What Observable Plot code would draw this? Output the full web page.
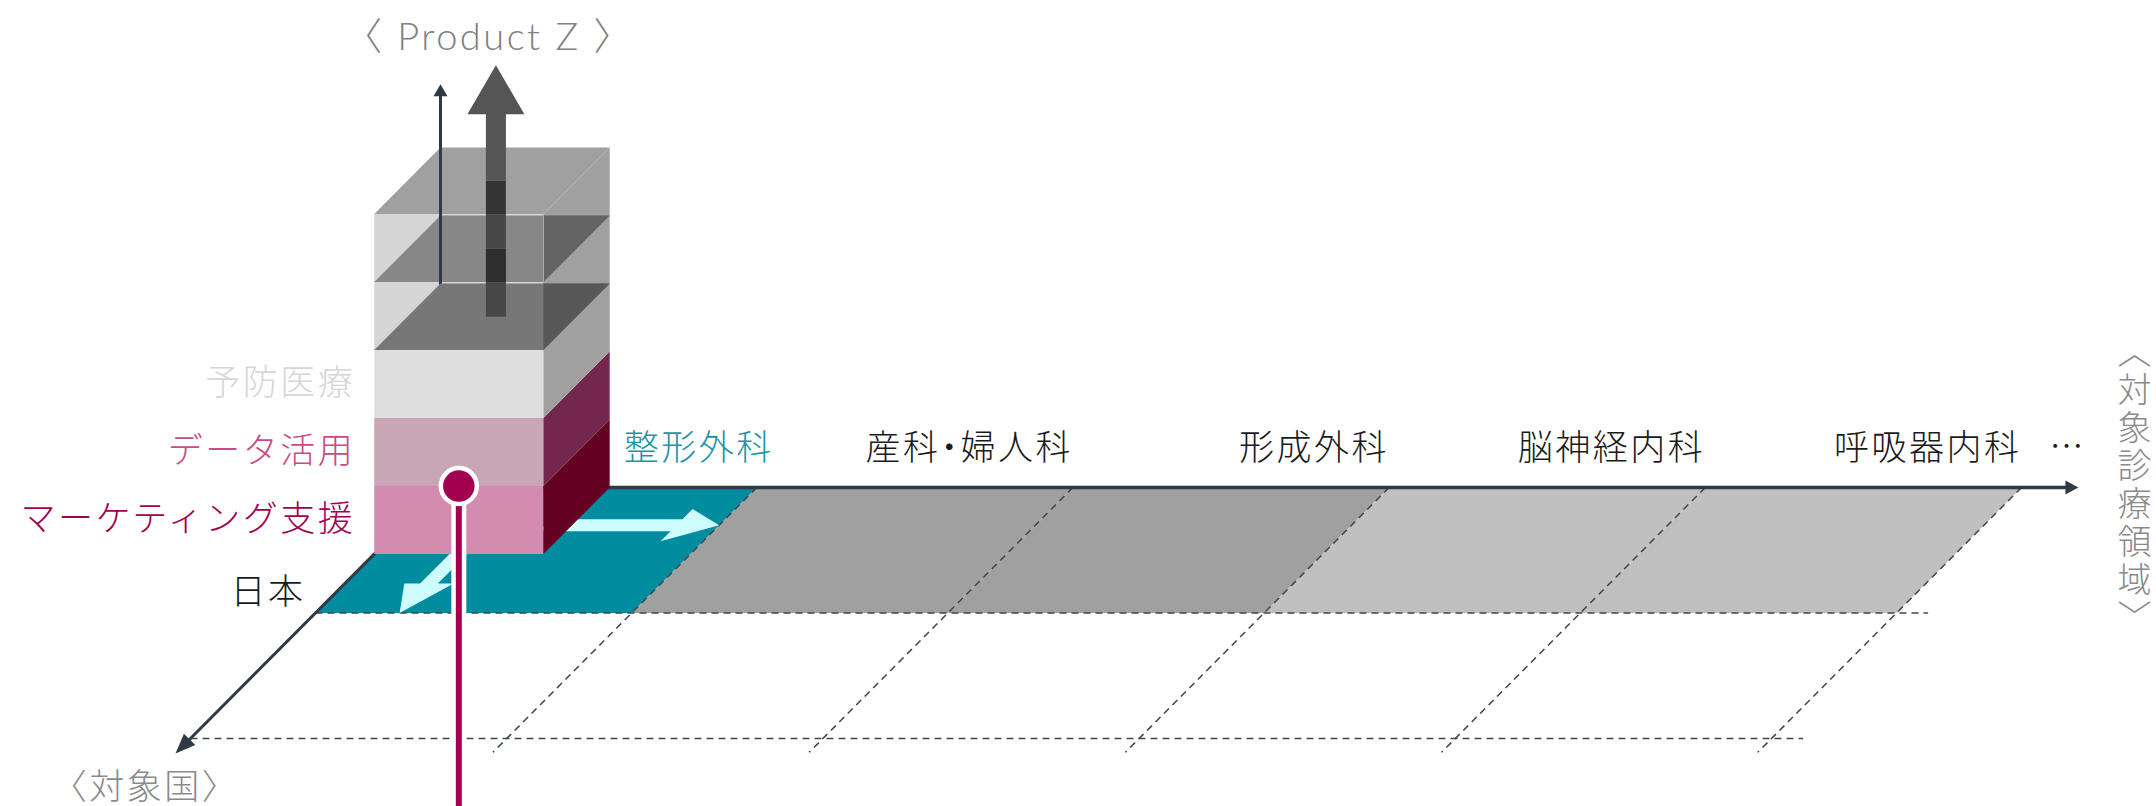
<!DOCTYPE html>
<html><head><meta charset="utf-8">
<script src="https://cdn.jsdelivr.net/npm/d3@7"></script>
<script src="https://cdn.jsdelivr.net/npm/@observablehq/plot@0.6"></script>
<style>html,body{margin:0;padding:0;background:#fff;overflow:hidden}</style>
</head><body><div id="chart"></div>
<script>
// ---------------- data ----------------
const departments = ["整形外科", "産科・婦人科", "形成外科", "脳神経内科", "呼吸器内科"];
const departmentStatus = ["current", "next", "next", "later", "later"];
const countries = ["日本", ""];
const services = ["マーケティング支援", "データ活用", "予防医療"];
const futureLayers = ["future-1", "future-2"];
const productTitle = "〈 Product Z 〉";
const countryTitle = "〈対象国〉";
const departmentTitle = "〈対象診療領域〉";
const moreMark = "…";

// ---------------- styles ----------------
const statusFill = {current: "#028c9f", next: "#a0a0a0", later: "#c0c0c0"};
const serviceFront = ["#d38bb0", "#c9a6b6", "#dedede"];
const serviceSide = ["#640022", "#74264f", "#a0a0a0"];
const serviceText = ["#a0004f", "#c94a86", "#d6d6d6"];
const axisColor = "#2f3a44";
const pinColor = "#a3004f";
const flowColor = "#cdfdff";
const JP = "'Noto Sans CJK JP Light','Noto Sans CJK JP DemiLight','Noto Sans CJK JP','Noto Sans',sans-serif";
const textWeight = 300;

// ---------------- layout (oblique projection) ----------------
const W = 2156, H = 806;
const O = [440, 487], COL = 316.2, ROW = [-125, 125.5], LAY = 68;
const P = (c, d, z = 0) => ({x: O[0] + c * COL + d * ROW[0], y: O[1] + d * ROW[1] - z * LAY});
const CW = 0.535, CD = 0.53;           // footprint of the product block in its cell
const nCols = departments.length, nRows = countries.length;

const poly = (pts, fill, extra = {}) =>
  Plot.line(pts, {x: "x", y: "y", curve: "linear-closed", fill, stroke: "none", ...extra});
function head(tip, from, len, hw) {
  const dx = tip.x - from.x, dy = tip.y - from.y, L = Math.hypot(dx, dy);
  const ux = dx / L, uy = dy / L, bx = tip.x - ux * len, by = tip.y - uy * len;
  return [{x: tip.x, y: tip.y}, {x: bx - uy * hw, y: by + ux * hw}, {x: bx + uy * hw, y: by - ux * hw}];
}
const seg = (a, b) => ({x1: a.x, y1: a.y, x2: b.x, y2: b.y});
const L4 = {x1: "x1", y1: "y1", x2: "x2", y2: "y2"};

const marks = [];

// floor cells, row 0 (日本)
departments.forEach((d, i) => {
  marks.push(poly([P(i, 0), P(i + 1, 0), P(i + 1, 1), P(i, 1)], statusFill[departmentStatus[i]]));
});

// dashed grid
const dashSegs = [];
for (let r = 1; r <= nRows; r++) dashSegs.push(seg(P(0, r), P(nCols + 0.1, r)));
for (let c = 1; c <= nCols; c++) dashSegs.push(seg(P(c, 0), P(c, nRows + 0.11)));
marks.push(Plot.link(dashSegs, {...L4, stroke: "#3f474f", strokeWidth: 1.6, strokeDasharray: "7,5"}));

// axes: departments (right), countries (diagonal), product (up)
const xTip = P(nCols + 0.18, 0), dTip = P(0, nRows + 0.12), zTip = P(0, 0, services.length + futureLayers.length + 0.93);
marks.push(Plot.link([seg(P(0, 0), P(nCols + 0.15, 0))], {...L4, stroke: axisColor, strokeWidth: 3.5}));
marks.push(poly(head(xTip, P(0, 0), 13, 7), axisColor));
marks.push(Plot.link([seg(P(0, 0), P(0, nRows + 0.02))], {...L4, stroke: axisColor, strokeWidth: 3}));
marks.push(poly(head(dTip, P(0, 0), 20, 8), axisColor));

// flow arrows on the floor (expansion to next department / next country)
const dc = 0.3, shw = 0.048, hhw = 0.128, cb = 0.865;
marks.push(poly([P(0.45, dc - shw), P(cb, dc - shw), P(cb, dc - hhw), P(1, dc), P(cb, dc + hhw), P(cb, dc + shw), P(0.45, dc + shw)], flowColor));
const cc = 0.266, cs = 0.028, ch = 0.078, db = 0.765;
marks.push(poly([P(cc - cs, 0.45), P(cc - cs, db), P(cc - ch, db), P(cc, 1), P(cc + ch, db), P(cc + cs, db), P(cc + cs, 0.45)], flowColor));

// glass (future Product Z layers)
const z0 = services.length, z1 = services.length + futureLayers.length;
marks.push(poly([P(0, CD, z0), P(CW, CD, z0), P(CW, CD, z1), P(0, CD, z1)], "#d5d5d5"));
marks.push(poly([P(CW, CD, z0), P(CW, 0, z0), P(CW, 0, z1), P(CW, CD, z1)], "#a0a0a0"));
const cut = CW + CD * ROW[0] / COL; // where the front-right edge meets the back edge
futureLayers.forEach((f, k) => {
  const z = z0 + k + 1;
  if (z < z1) {
    marks.push(poly([P(0, CD, z), P(CW, CD, z), P(CW, 0, z), P(0, 0, z)], "#878787"));
    marks.push(poly([P(CW, CD, z), P(CW, 0, z), P(cut, 0, z)], "#646464"));
  }
});
marks.push(poly([P(0, CD, z1), P(CW, CD, z1), P(CW, 0, z1), P(0, 0, z1)], "#a0a0a0"));
marks.push(Plot.link([seg(P(CW, CD, z0), P(CW, CD, z1)), seg(P(CW, CD, z1), P(CW, 0, z1))],
  {...L4, stroke: "#b4b4b4", strokeWidth: 1}));

// product axis (up)
marks.push(Plot.link([seg(P(0, 0), P(0, 0, services.length + futureLayers.length + 0.77))], {...L4, stroke: axisColor, strokeWidth: 3}));
marks.push(poly(head(zTip, P(0, 0), 12, 7), axisColor));

// solid block: current services
services.forEach((s, k) => {
  marks.push(poly([P(0, CD, k), P(CW, CD, k), P(CW, CD, k + 1), P(0, CD, k + 1)], serviceFront[k]));
  marks.push(poly([P(CW, CD, k), P(CW, 0, k), P(CW, 0, k + 1), P(CW, CD, k + 1)], serviceSide[k]));
});
marks.push(poly([P(0, CD, z0), P(CW, CD, z0), P(CW, 0, z0), P(0, 0, z0)], "#777777"));
marks.push(poly([P(CW, CD, z0), P(CW, 0, z0), P(cut, 0, z0)], "#585858"));

// big growth arrow (Product Z)
const ac = 0.28, ad = 0.265, aw = 10;
const shaft = [
  {z0: 3.0, z1: 3.5, color: "#474747"},
  {z0: 3.5, z1: 4.0, color: "#2e2e2e"},
  {z0: 4.0, z1: 4.5, color: "#474747"},
  {z0: 4.5, z1: 5.0, color: "#343434"},
  {z0: 5.0, z1: 6.02, color: "#555555"}
];
shaft.forEach(s => {
  const a = P(ac, ad, s.z0), b = P(ac, ad, s.z1);
  marks.push(poly([{x: a.x - aw, y: a.y}, {x: a.x + aw, y: a.y}, {x: b.x + aw, y: b.y}, {x: b.x - aw, y: b.y}], s.color));
});
marks.push(poly(head(P(ac, ad, 6.7), P(ac, ad, 3), 49, 28.5), "#555555"));

// pin: current position (日本 × 整形外科 × マーケティング支援)
const pin = P(CW / 2, CD, 1);
marks.push(Plot.link([{x1: pin.x, y1: pin.y, x2: pin.x, y2: H + 10}], {...L4, stroke: "#fff", strokeWidth: 15}));
marks.push(Plot.link([{x1: pin.x, y1: pin.y, x2: pin.x, y2: H + 10}], {...L4, stroke: pinColor, strokeWidth: 6}));
marks.push(Plot.dot([pin], {x: "x", y: "y", r: 18, fill: pinColor, stroke: "#fff", strokeWidth: 4.5}));

// labels
const T = {fontFamily: JP, fontWeight: textWeight};
marks.push(Plot.text(services, {
  x: (d, i) => P(0, CD, i + 0.5).x, y: (d, i) => P(0, CD, i + 0.5).y, text: d => d,
  textAnchor: "end", dx: -19, fill: (d, i) => serviceText[i], fontSize: 35, ...T
}));
marks.push(Plot.text(countries.filter(c => c), {
  x: (d, i) => P(0, i + 0.84).x, y: (d, i) => P(0, i + 0.84).y, text: d => d,
  textAnchor: "end", dx: -30, fill: "#1a1a1a", fontSize: 35, ...T
}));
marks.push(Plot.text(departments.slice(1), {
  x: (d, i) => P(i + 2, 0).x, y: (d, i) => P(i + 2, 0).y, text: d => d,
  textAnchor: "end", dy: -39, fill: "#1a1a1a", fontSize: 35, ...T
}));
marks.push(Plot.text([departments[0]], {
  x: P(CW, 0).x, y: P(CW, 0).y, text: d => d,
  textAnchor: "start", dx: 14, dy: -39, fill: "#1a94a6", fontSize: 35, ...T
}));
marks.push(Plot.text([moreMark], {x: P(nCols, 0).x, y: P(nCols, 0).y, text: d => d, textAnchor: "start", dx: 28, dy: -39, fill: "#1a1a1a", fontSize: 34, ...T}));
marks.push(Plot.text([productTitle], {x: P(ac, ad, 6.7).x, y: P(ac, ad, 6.7).y, text: d => d, dx: -7, dy: -27, fill: "#808080", fontSize: 38, fontFamily: "Lato, " + JP, fontWeight: 300}));
marks.push(Plot.text([countryTitle], {x: dTip.x, y: dTip.y, text: d => d, dx: -30, dy: 34, fill: "#8a8a8a", fontSize: 35, ...T}));
marks.push(Plot.text([departmentTitle], {x: xTip.x, y: xTip.y, text: d => d, dx: 56, fill: "#8a8a8a", fontSize: 34, ...T}));

const chart = Plot.plot({
  width: W, height: H, margin: 0,
  x: {type: "linear", domain: [0, W], range: [0, W], axis: null},
  y: {type: "linear", domain: [0, H], range: [0, H], axis: null},
  style: {background: "#fff", fontFamily: JP, letterSpacing: "2.5px", overflow: "visible"},
  marks
});
document.getElementById("chart").append(chart);

chart.querySelectorAll("text").forEach(t => {
  if (t.textContent === departmentTitle) {       // vertical axis title
    t.setAttribute("dy", "-12");
    t.style.writingMode = "vertical-rl";
    t.style.letterSpacing = "4px";
    t.setAttribute("text-anchor", "middle");
  }
  if (t.textContent === departments[1]) {         // proportional middle dot
    t.style.fontFeatureSettings = '"palt"';
  }
});
</script>
</body></html>
